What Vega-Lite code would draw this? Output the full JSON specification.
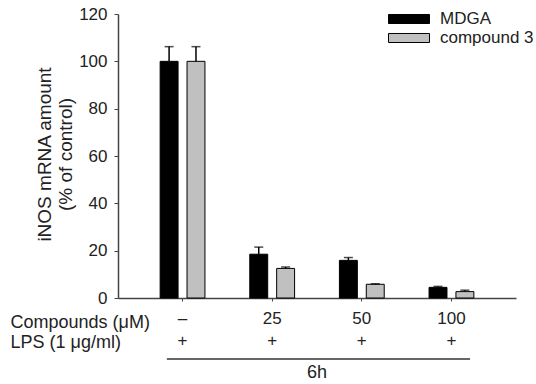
{
  "$schema": "https://vega.github.io/schema/vega-lite/v6.json",
  "autosize": "none",
  "width": 398,
  "height": 284,
  "padding": {"left": 118, "top": 14, "right": 20, "bottom": 86},
  "background": "white",
  "config": {
    "view": {"stroke": null},
    "font": "Liberation Sans",
    "axis": {"grid": false, "labelFont": "Liberation Sans", "titleFont": "Liberation Sans"}
  },
  "title": {
    "text": "6h",
    "orient": "bottom",
    "anchor": "middle",
    "frame": "group",
    "baseline": "top",
    "offset": 4,
    "fontSize": 18,
    "fontWeight": "normal",
    "color": "#222222",
    "font": "Liberation Sans"
  },
  "data": {
    "values": [
      {"dose": "–", "compound": "MDGA", "value": 100, "upper": 106.2},
      {"dose": "–", "compound": "compound 3", "value": 100, "upper": 106.2},
      {"dose": "25", "compound": "MDGA", "value": 18.5, "upper": 21.5},
      {"dose": "25", "compound": "compound 3", "value": 12.5, "upper": 13.1},
      {"dose": "50", "compound": "MDGA", "value": 15.9, "upper": 17.1},
      {"dose": "50", "compound": "compound 3", "value": 5.8, "upper": 6.0},
      {"dose": "100", "compound": "MDGA", "value": 4.5, "upper": 4.9},
      {"dose": "100", "compound": "compound 3", "value": 2.7, "upper": 3.3}
    ]
  },
  "encoding": {
    "x": {
      "field": "dose",
      "type": "nominal",
      "scale": {"domain": ["–", "25", "50", "100"], "paddingInner": 0.5, "paddingOuter": 0.47},
      "axis": {
        "labelAngle": 0,
        "labelExpr": "[datum.label, '+']",
        "labelLineHeight": 22,
        "labelFontSize": 17,
        "labelColor": "#222222",
        "labelBaseline": "top",
        "labelPadding": 9,
        "tickSize": 3,
        "tickColor": "#444444",
        "domainColor": "#444444",
        "domainWidth": 1.5,
        "title": ["Compounds (μM)", "LPS (1 μg/ml)"],
        "titleFontSize": 18,
        "titleFontWeight": "normal",
        "titleColor": "#222222",
        "titleAlign": "left",
        "titleAnchor": "start",
        "titleBaseline": "alphabetic",
        "titleLineHeight": 20,
        "titleX": -108,
        "titleY": 29
      }
    },
    "xOffset": {
      "field": "compound",
      "type": "nominal",
      "sort": ["MDGA", "compound 3"],
      "scale": {"paddingInner": 0.333, "paddingOuter": 0}
    }
  },
  "layer": [
    {
      "mark": {"type": "bar", "stroke": "#000000", "strokeWidth": 1},
      "encoding": {
        "y": {
          "field": "value",
          "type": "quantitative",
          "scale": {"domain": [0, 120], "nice": false, "zero": true},
          "axis": {
            "values": [0, 20, 40, 60, 80, 100, 120],
            "labelFontSize": 17,
            "labelColor": "#222222",
            "labelPadding": 7,
            "tickSize": 4,
            "tickColor": "#444444",
            "domainColor": "#444444",
            "domainWidth": 1.5,
            "title": ["iNOS mRNA amount", "(% of control)"],
            "titleFontSize": 19,
            "titleFontWeight": "normal",
            "titleColor": "#222222",
            "titleLineHeight": 21,
            "titleAngle": -90,
            "titleAlign": "center",
            "titleAnchor": "middle",
            "titleBaseline": "middle",
            "titleX": -74,
            "titleY": 140
          }
        },
        "fill": {
          "field": "compound",
          "type": "nominal",
          "sort": ["MDGA", "compound 3"],
          "scale": {"domain": ["MDGA", "compound 3"], "range": ["#000000", "#c0c0c0"]},
          "legend": {
            "title": null,
            "orient": "none",
            "legendX": 280,
            "legendY": -6,
            "symbolType": "M-2,-0.44H2V0.44H-2Z",
            "symbolSize": 420,
            "symbolStrokeColor": "#000000",
            "symbolStrokeWidth": 1,
            "labelFontSize": 17,
            "labelColor": "#222222",
            "labelOffset": 20,
            "rowPadding": 0
          }
        }
      }
    },
    {
      "mark": {"type": "rule", "color": "#000000", "strokeWidth": 1.5},
      "encoding": {
        "y": {"field": "value", "type": "quantitative"},
        "y2": {"field": "upper"}
      }
    },
    {
      "mark": {"type": "tick", "color": "#000000", "thickness": 1.5, "size": 9},
      "encoding": {
        "y": {"field": "upper", "type": "quantitative"}
      }
    },
    {
      "data": {"values": [{"dose": "–", "dose_end": "100", "level": -25.8}]},
      "mark": {"type": "rule", "color": "#333333", "strokeWidth": 1.5, "clip": false},
      "encoding": {
        "x": {"field": "dose", "type": "nominal", "bandPosition": 0.15},
        "x2": {"field": "dose_end", "bandPosition": 0.915},
        "y": {"field": "level", "type": "quantitative"},
        "xOffset": null
      }
    }
  ]
}
